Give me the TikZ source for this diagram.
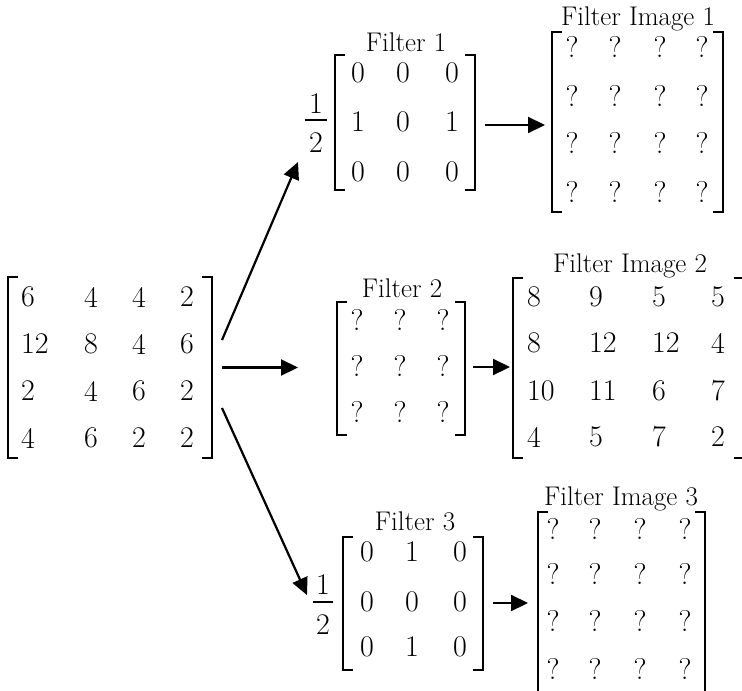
\documentclass[tikz,border=0pt]{standalone}
\usetikzlibrary{arrows.meta,calc}
\newcommand\drawbrk[1]{%
  \draw[brk] ($(#1.north west)+(10,0)$) -- (#1.north west) -- (#1.south west) -- ($(#1.south west)+(10,0)$);
  \draw[brk] ($(#1.north east)+(-10,0)$) -- (#1.north east) -- (#1.south east) -- ($(#1.south east)+(-10,0)$);}
\begin{document}
\begin{tikzpicture}[x=1pt,y=-1pt,
  ent/.style={inner sep=0pt,outer sep=0pt,font=\fontsize{30}{36}\selectfont},
  lft/.style={ent,anchor=west},
  lbl/.style={inner sep=0pt,anchor=base,font=\fontsize{27}{32}\selectfont},
  mbox/.style 2 args={inner sep=0pt,outer sep=0pt,minimum width=#1,minimum height=#2},
  brk/.style={line width=1.4pt},
  fbar/.style={line width=1.5pt},
  arr/.style={line width=2.2pt,-{Triangle[length=17pt,width=16pt]}}]
\useasboundingbox (0,0) rectangle (742,691);
\clip (0,0) rectangle (742,691);

% ---------- bracket frames ----------
\node[mbox={204pt}{181pt}] (M) at (110,367.5) {};
\node[mbox={140pt}{135pt}] (F1) at (405,122.5) {};
\node[mbox={171pt}{180pt}] (FI1) at (637.5,122) {};
\node[mbox={128pt}{133pt}] (F2) at (401,368.5) {};
\node[mbox={230.5pt}{180pt}] (FI2) at (628.25,368) {};
\node[mbox={140pt}{133pt}] (F3) at (413,603.5) {};
\node[mbox={167pt}{185pt}] (FI3) at (621.5,604.5) {};
\drawbrk{M}\drawbrk{F1}\drawbrk{FI1}\drawbrk{F2}\drawbrk{FI2}\drawbrk{F3}\drawbrk{FI3}

% ---------- input matrix ----------
\foreach \c/\x/\t in {1/21/6,2/84/4,3/132/4,4/180/2} \node[lft] (m-1-\c) at (\x,297) {\t};
\foreach \c/\x/\t in {1/21/12,2/84/8,3/132/4,4/180/6} \node[lft] (m-2-\c) at (\x,344) {\t};
\foreach \c/\x/\t in {1/21/2,2/84/4,3/132/6,4/180/2} \node[lft] (m-3-\c) at (\x,391) {\t};
\foreach \c/\x/\t in {1/21/4,2/84/6,3/132/2,4/180/2} \node[lft] (m-4-\c) at (\x,438) {\t};

% ---------- filter 1 ----------
\node[lbl] (l1) at (406,51) {Filter 1};
\node[ent] (h1n) at (316,104) {1};
\node[ent] (h1d) at (316,143) {2};
\draw[fbar] ($(h1n)+(-11,16)$) -- ($(h1n)+(11,16)$);
\foreach \c/\x/\t in {1/358/0,2/403/0,3/452/0} \node[ent] (f1-1-\c) at (\x,73) {\t};
\foreach \c/\x/\t in {1/358/1,2/403/0,3/452/1} \node[ent] (f1-2-\c) at (\x,122) {\t};
\foreach \c/\x/\t in {1/358/0,2/403/0,3/452/0} \node[ent] (f1-3-\c) at (\x,172) {\t};

% ---------- filter image 1 ----------
\node[lbl] (li1) at (638,25) {Filter Image 1};
\foreach \r/\y in {1/47,2/96,3/143,4/192}
  \foreach \c/\x in {1/572,2/615,3/660,4/702}
    \node[ent] (g1-\r-\c) at (\x,\y) {?};

% ---------- filter 2 ----------
\node[lbl] (l2) at (402,297) {Filter 2};
\foreach \r/\y in {1/320,2/366,3/412}
  \foreach \c/\x in {1/357,2/400,3/443}
    \node[ent] (f2-\r-\c) at (\x,\y) {?};

% ---------- filter image 2 ----------
\node[lbl] (li2) at (630,272) {Filter Image 2};
\foreach \c/\x/\t in {1/527/8,2/589/9,3/652/5,4/711/5} \node[lft] (g2-1-\c) at (\x,297) {\t};
\foreach \c/\x/\t in {1/527/8,2/589/12,3/652/12,4/711/4} \node[lft] (g2-2-\c) at (\x,343) {\t};
\foreach \c/\x/\t in {1/527/10,2/589/11,3/652/6,4/711/7} \node[lft] (g2-3-\c) at (\x,391) {\t};
\foreach \c/\x/\t in {1/527/4,2/589/5,3/652/7,4/711/2} \node[lft] (g2-4-\c) at (\x,437) {\t};

% ---------- filter 3 ----------
\node[lbl] (l3) at (415,530) {Filter 3};
\node[ent] (h3n) at (323,585) {1};
\node[ent] (h3d) at (323,625) {2};
\draw[fbar] ($(h3n)+(-10,17)$) -- ($(h3n)+(10,17)$);
\foreach \c/\x/\t in {1/367/0,2/412/1,3/460/0} \node[ent] (f3-1-\c) at (\x,552) {\t};
\foreach \c/\x/\t in {1/367/0,2/412/0,3/460/0} \node[ent] (f3-2-\c) at (\x,602) {\t};
\foreach \c/\x/\t in {1/367/0,2/412/1,3/460/0} \node[ent] (f3-3-\c) at (\x,647) {\t};

% ---------- filter image 3 ----------
\node[lbl] (li3) at (621,505) {Filter Image 3};
\foreach \r/\y in {1/529,2/574,3/621,4/669}
  \foreach \c/\x in {1/553,2/595,3/640,4/685}
    \node[ent] (g3-\r-\c) at (\x,\y) {?};

% ---------- arrows ----------
\draw[arr] ($(M.east)+(10,-27.5)$) -- ($(h1d)+(-18,19)$);
\draw[arr] ($(M.east)+(10,0)$) -- ($(F2.west)+(-39,-1)$);
\draw[arr] ($(M.east)+(10,40.5)$) -- ($(h3n)+(-16,10)$);
\draw[arr] ($(F1.east)+(10,2.5)$) -- ($(FI1.west)+(-7,3)$);
\draw[arr] ($(F2.east)+(8,-1.5)$) -- ($(FI2.west)+(-3,-1)$);
\draw[arr] ($(F3.east)+(10,-0.5)$) -- ($(FI3.west)+(-10,-1.5)$);
\end{tikzpicture}
\end{document}
